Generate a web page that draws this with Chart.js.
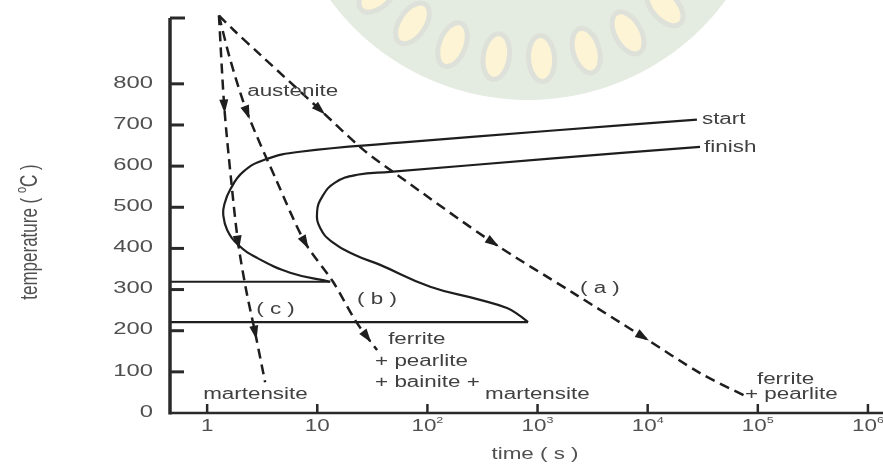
<!DOCTYPE html>
<html>
<head>
<meta charset="utf-8">
<script src="https://cdn.jsdelivr.net/npm/chart.js@4.4.0/dist/chart.umd.min.js"></script>
<style>
html, body { margin: 0; padding: 0; background: #fff; }
#wrap { width: 883px; height: 465px; position: relative; }
</style>
</head>
<body>
<div id="wrap"><canvas id="cct"></canvas></div>
<script>
// axis ticks
let timeTicks = [1, 10, 100, 1000, 10000, 100000, 1000000]
let timeTickBase = ['1', '10', '10', '10', '10', '10', '10']
let timeTickPower = ['', '', '2', '3', '4', '5', '6']
let tempTicks = [0, 100, 200, 300, 400, 500, 600, 700, 800]

// cooling paths (time s, temperature C)
let pathATime = [1.28, 1.72, 3.03, 10.6, 26.1, 48.8, 394, 2100, 9070, 29900, 79800]
let pathATemp = [966, 932, 871, 737, 640, 586, 414, 292, 185, 97, 39]
let pathBTime = [1.28, 1.62, 2.31, 4.23, 7.76, 13.9, 22.0, 28.3, 34.9]
let pathBTemp = [966, 859, 730, 567, 414, 319, 226, 185, 153]
let pathCTime = [1.28, 1.43, 1.65, 1.91, 2.26, 2.73, 3.36]
let pathCTemp = [966, 745, 567, 414, 299, 195, 75]

// transformation start / finish curves
let startTime = [28000, 1298, 56.5, 6.98, 3.36, 2.12, 1.62, 1.43, 1.40, 1.52, 1.91, 2.84, 5.67, 13.1]
let startTemp = [713, 686, 657, 635, 616, 586, 543, 506, 482, 445, 409, 377, 341, 319]
let finishTime = [29900, 1298, 45.8, 23.0, 14.5, 11.1, 9.96, 10.6, 13.6, 22.0, 37.2, 106, 301, 528, 693, 820]
let finishTemp = [647, 618, 586, 579, 560, 526, 489, 450, 416, 384, 360, 307, 275, 255, 236, 221]
let startFloorTime = [0.46, 13.1]
let startFloorTemp = [319, 319]
let finishFloorTime = [0.46, 820]
let finishFloorTemp = [221, 221]

// text on the plot: [text, time, temp]
let notes = [
  ['austenite', 2.31, 781],
  ['start', 31100, 713],
  ['finish', 32500, 645],
  ['( a )', 2430, 302],
  ['( b )', 23.0, 275],
  ['( c )', 2.79, 251],
  ['ferrite', 44.0, 178],
  ['+ pearlite', 33.5, 124],
  ['+ bainite +', 33.5, 73],
  ['martensite', 334, 44],
  ['martensite', 0.92, 44],
  ['ferrite', 98200, 80],
  ['+ pearlite', 76400, 44]
]

function pts(xs, ys) {
  return xs.map((x, i) => ({ x: x, y: ys[i] }))
}

let SX = 1.4 // the original picture is stretched sideways, so is its text
let FONT = '"Liberation Sans", Arial, sans-serif'

function drawParts(ctx, parts, align) {
  let w = 0
  parts.forEach(p => { ctx.font = p[1] + 'px ' + FONT; w += ctx.measureText(p[0]).width })
  let cx = align === 'center' ? -w / 2 : align === 'right' ? -w : 0
  ctx.textAlign = 'left'
  ctx.textBaseline = 'middle'
  parts.forEach(p => {
    ctx.font = p[1] + 'px ' + FONT
    ctx.fillText(p[0], cx, -(p[2] || 0))
    cx += ctx.measureText(p[0]).width
  })
}

function stretched(ctx, parts, x, y, align) {
  ctx.save()
  ctx.translate(x, y)
  ctx.scale(SX, 1)
  drawParts(ctx, parts, align)
  ctx.restore()
}

// faint logo behind the figure
let watermark = {
  id: 'watermark',
  beforeDraw(chart) {
    let ctx = chart.ctx
    ctx.save()
    ctx.fillStyle = '#e4ece2'
    ctx.beginPath()
    ctx.arc(528, -146, 246, 0, Math.PI)
    ctx.fill()
    for (let k = 0; k < 8; k++) {
      let a = (137 - k * 12.7) * Math.PI / 180
      let px = 528 + Math.cos(a) * 205
      let py = -146 + Math.sin(a) * 205
      ctx.beginPath()
      ctx.ellipse(px, py, 23, 13, a, 0, Math.PI * 2)
      ctx.fillStyle = '#fcf4d4'
      ctx.fill()
      ctx.lineWidth = 5
      ctx.strokeStyle = '#dde1da'
      ctx.stroke()
    }
    ctx.restore()
  }
}

// arrowheads on the dashed cooling paths
let arrows = {
  id: 'arrows',
  afterDatasetsDraw(chart) {
    let ctx = chart.ctx
    chart.data.datasets.forEach((ds, di) => {
      if (!ds.arrowAt) return
      let el = chart.getDatasetMeta(di).data
      ds.arrowAt.forEach(i => {
        let a = el[i - 1], b = el[i + 1], p = el[i]
        let dx = b.x - a.x, dy = b.y - a.y
        let len = Math.hypot(dx, dy)
        dx /= len; dy /= len
        ctx.save()
        ctx.fillStyle = '#1e1e1e'
        ctx.beginPath()
        ctx.moveTo(p.x + dx * 7, p.y + dy * 7)
        ctx.lineTo(p.x - dx * 7 - dy * 4.5, p.y - dy * 7 + dx * 4.5)
        ctx.lineTo(p.x - dx * 7 + dy * 4.5, p.y - dy * 7 - dx * 4.5)
        ctx.closePath()
        ctx.fill()
        ctx.restore()
      })
    })
  }
}

// axes drawn the old-fashioned way: inward ticks, stretched labels
let axes = {
  id: 'axes',
  afterDraw(chart) {
    let ctx = chart.ctx
    let area = chart.chartArea
    let xs = chart.scales.x, ys = chart.scales.y
    ctx.save()
    ctx.strokeStyle = '#2a2a2a'
    ctx.lineCap = 'butt'

    ctx.lineWidth = 3.5
    ctx.beginPath()
    ctx.moveTo(area.left, area.top)
    ctx.lineTo(area.left, area.bottom + 1.5)
    ctx.stroke()

    ctx.lineWidth = 2.5
    ctx.beginPath()
    ctx.moveTo(area.left, area.bottom)
    ctx.lineTo(area.right, area.bottom)
    ctx.stroke()

    ctx.lineWidth = 3
    ctx.beginPath()
    ctx.moveTo(area.left, area.top)
    ctx.lineTo(area.left + 15, area.top)
    ctx.stroke()

    ctx.fillStyle = '#505050'
    tempTicks.forEach(v => {
      let y = ys.getPixelForValue(v)
      if (v > 0) {
        ctx.lineWidth = 3
        ctx.beginPath()
        ctx.moveTo(area.left, y)
        ctx.lineTo(area.left + 14, y)
        ctx.stroke()
      }
      stretched(ctx, [[String(v), 17]], area.left - 17, y - 1, 'right')
    })

    timeTicks.forEach((v, i) => {
      let x = xs.getPixelForValue(v)
      ctx.lineWidth = 2.5
      ctx.beginPath()
      ctx.moveTo(x, area.bottom)
      ctx.lineTo(x, area.bottom - 9)
      ctx.stroke()
      let parts = [[timeTickBase[i], 16]]
      if (timeTickPower[i]) parts.push([timeTickPower[i], 9, 6])
      stretched(ctx, parts, x, area.bottom + 14, 'center')
    })

    stretched(ctx, [['time ( s )', 16]], 535, 455, 'center')

    ctx.save()
    ctx.translate(30, 232)
    ctx.rotate(-Math.PI / 2)
    ctx.scale(1, SX)
    drawParts(ctx, [['temperature ( ', 17], ['o', 11, 6], ['C )', 17]], 'center')
    ctx.restore()

    ctx.fillStyle = '#404040'
    notes.forEach(n => {
      stretched(ctx, [[n[0], 16]], xs.getPixelForValue(n[1]), ys.getPixelForValue(n[2]), 'left')
    })
    ctx.restore()
  }
}

let dashed = { borderColor: '#1e1e1e', borderWidth: 2.5, borderDash: [10, 6], pointRadius: 0, tension: 0.3, clip: false, fill: false }
let solid = { borderColor: '#1e1e1e', borderWidth: 2.2, pointRadius: 0, tension: 0.45, clip: false, fill: false }

new Chart(document.getElementById('cct'), {
  type: 'line',
  data: {
    datasets: [
      Object.assign({ label: '(a)', data: pts(pathATime, pathATemp), arrowAt: [3, 6, 8] }, dashed),
      Object.assign({ label: '(b)', data: pts(pathBTime, pathBTemp), arrowAt: [2, 4, 7] }, dashed),
      Object.assign({ label: '(c)', data: pts(pathCTime, pathCTemp), arrowAt: [1, 3, 5] }, dashed),
      Object.assign({ label: 'start', data: pts(startTime, startTemp) }, solid),
      Object.assign({ label: 'finish', data: pts(finishTime, finishTemp) }, solid),
      Object.assign({ label: 'start floor', data: pts(startFloorTime, startFloorTemp) }, solid, { tension: 0 }),
      Object.assign({ label: 'finish floor', data: pts(finishFloorTime, finishFloorTemp) }, solid, { tension: 0 })
    ]
  },
  options: {
    responsive: true,
    maintainAspectRatio: false,
    animation: false,
    layout: { padding: { left: 170, top: 18, right: 0, bottom: 52 } },
    plugins: { legend: { display: false }, tooltip: { enabled: false } },
    scales: {
      x: { type: 'logarithmic', min: 0.46, max: 1370000, display: false },
      y: { type: 'linear', min: 0, max: 960, display: false }
    }
  },
  plugins: [watermark, arrows, axes]
})
</script>
</body>
</html>
